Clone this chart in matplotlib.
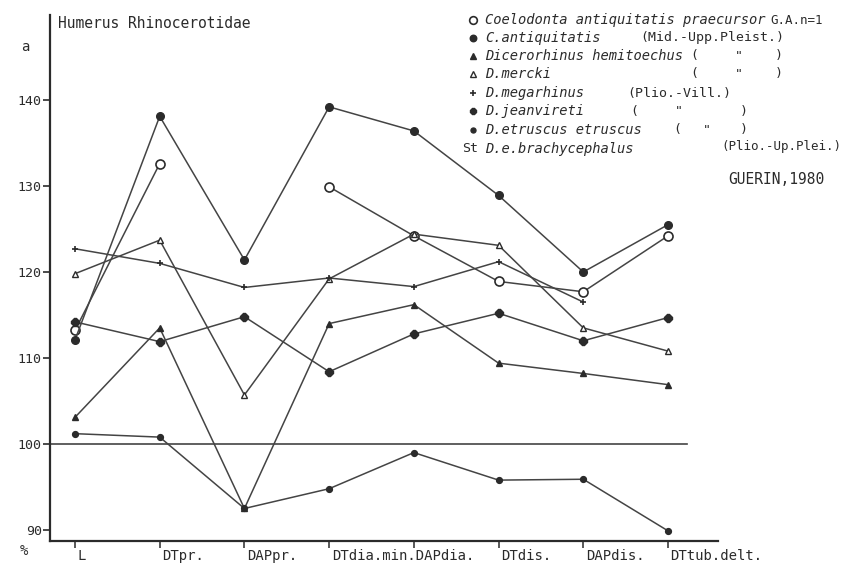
import numpy as np
import matplotlib
matplotlib.use("Agg")
import matplotlib.pyplot as plt
from matplotlib.lines import Line2D

nan = np.nan

# measurements as % of the standard (D.e.brachycephalus = 100)
measures = ["L", "DTpr.", "DAPpr.", "DTdia.min.", "DAPdia.", "DTdis.", "DAPdis.", "DTtub.delt."]
standard = 100

praecursor = [113.2, 132.6, nan, 129.9, 124.2, 118.9, 117.7, 124.2]
antiquitatis = [112.1, 138.1, 121.4, 139.2, 136.4, 128.9, 120.0, 125.5]
hemitoechus = [103.1, 113.5, 92.5, 114.0, 116.2, 109.4, 108.2, 106.9]
mercki = [119.8, 123.7, 105.7, 119.2, 124.4, 123.1, 113.5, 110.8]
megarhinus = [122.7, 121.0, 118.2, 119.3, 118.3, 121.2, 116.5, nan]
jeanvireti = [114.2, 111.9, 114.8, 108.4, 112.8, 115.2, 112.0, 114.7]
etruscus = [101.2, 100.8, 92.5, 94.8, 99.0, 95.8, 95.9, 89.9]

yticks = [90, 100, 110, 120, 130, 140]

W, H = 849, 566
ink = "#2b2b2b"
line_c = "#444444"
mono = "DejaVu Sans Mono"

def px(x, y):
    return x / W, 1 - y / H

fig = plt.figure(figsize=(W / 100, H / 100), dpi=100)
ax = fig.add_axes([50 / W, (H - 541) / H, (718 - 50) / W, (541 - 15) / H])

x = np.arange(len(measures))
styles = [
    (praecursor, dict(marker="o", ms=6.5, mfc="white", mec=ink, mew=1.2)),
    (antiquitatis, dict(marker="o", ms=5.5, mfc=ink, mec=ink)),
    (hemitoechus, dict(marker="^", ms=5, mfc=ink, mec=ink)),
    (mercki, dict(marker="^", ms=5, mfc="white", mec=ink, mew=1)),
    (megarhinus, dict(marker="+", ms=5, mec=ink, mew=1.2)),
    (jeanvireti, dict(marker="8", ms=5.5, mfc=ink, mec=ink)),
    (etruscus, dict(marker="o", ms=4.2, mfc=ink, mec=ink)),
]
for vals, st in styles:
    ax.plot(x, vals, color=line_c, lw=1.1, zorder=3, **st)

# standard line
ax.plot([-0.295, 7.22], [standard, standard], color=line_c, lw=1.2, zorder=2)

ax.set_xlim(-0.295, 7.59)
ax.set_ylim(88.72, 149.88)
for s in ["top", "right"]:
    ax.spines[s].set_visible(False)
for s in ["left", "bottom"]:
    ax.spines[s].set_linewidth(1.6)
    ax.spines[s].set_color(ink)

ax.set_yticks(yticks)
ax.set_yticklabels([str(v) for v in yticks], fontfamily=mono, fontsize=9.5, color=ink)
ax.tick_params(axis="y", direction="out", length=5, width=1.2, color=ink, pad=1)
ax.set_xticks(x)
ax.set_xticklabels([])
ax.tick_params(axis="x", direction="out", length=5, width=1.1, color=ink)

# x labels, left aligned under the ticks ("DTdia.min.DAPdia." shares one label)
xlab = ["L", "DTpr.", "DAPpr.", "DTdia.min.DAPdia.", "", "DTdis.", "DAPdis.", "DTtub.delt."]
for i, lab in enumerate(xlab):
    if lab:
        ax.text(i + 0.03 if i else i + 0.08, -0.016, lab, transform=ax.get_xaxis_transform(),
                ha="left" if i else "center", va="top", fontfamily=mono, fontsize=10, color=ink)

fig.text(*px(24, 551), "%", ha="center", va="center", fontfamily=mono, fontsize=10, color=ink)
fig.text(*px(25, 47), "a", ha="center", va="center", fontfamily=mono, fontsize=10, color=ink)
fig.text(*px(58, 24), "Humerus Rhinocerotidae", ha="left", va="center",
         fontfamily=mono, fontsize=10.5, color=ink)

# key
rows = [20, 38, 56, 74, 93, 111, 130, 149]
names = ["Coelodonta antiquitatis praecursor", "C.antiquitatis", "Dicerorhinus hemitoechus",
         "D.mercki", "D.megarhinus", "D.jeanvireti", "D.etruscus etruscus", "D.e.brachycephalus"]
for (vals, st), yy in zip(styles, rows):
    k = dict(st)
    k["ms"] = k["ms"] * 0.85
    fig.add_artist(Line2D([473 / W], [1 - yy / H], transform=fig.transFigure,
                          linestyle="none", **k))
for name, yy in zip(names, rows):
    fig.text(*px(485, yy), name, ha="left", va="center", fontfamily=mono,
             style="oblique", fontsize=9.9, color=ink)

def put(xp, yp, s, size=9.5):
    fig.text(*px(xp, yp), s, ha="left", va="center", fontfamily=mono, fontsize=size, color=ink)

put(770, rows[0], "G.A.n=1", 9)
put(640, rows[1], "(Mid.-Upp.Pleist.)")
for r in (rows[2], rows[3]):
    put(690, r, "(")
    put(735, r, '"')
    put(775, r, ")")
put(627, rows[4], "(Plio.-Vill.)")
put(630, rows[5], "(")
put(675, rows[5], '"')
put(740, rows[5], ")")
put(673, rows[6], "(")
put(703, rows[6], '"')
put(740, rows[6], ")")
put(462, rows[7], "St", 9.5)
put(721, 146, "(Plio.-Up.Plei.)", 9)
put(728, 180, "GUERIN,1980", 10.5)

fig.savefig("out.png", dpi=100, facecolor="white")
